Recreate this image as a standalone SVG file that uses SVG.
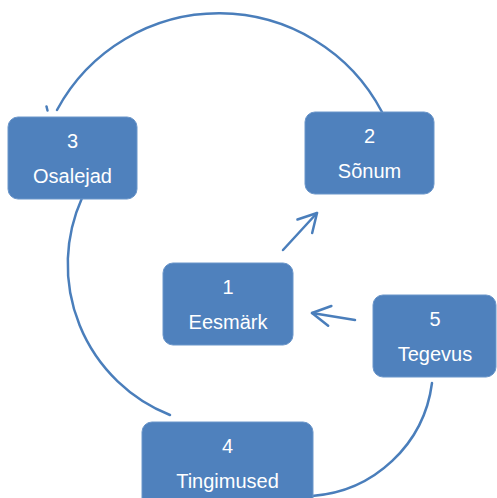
<svg xmlns="http://www.w3.org/2000/svg" width="497" height="498" viewBox="0 0 497 498">
<style>
.c{fill:none;stroke:#4a7ebb;stroke-width:2.5;stroke-linecap:round}
.a{marker-end:url(#ah)}
.b{fill:#4f81bd;stroke:#6b96ca;stroke-width:1}
.t{font-family:"Liberation Sans",Arial,sans-serif;font-size:20px;fill:#ffffff;text-anchor:middle}
</style>
<defs>
<marker id="ah" markerUnits="userSpaceOnUse" viewBox="-22 -14 26 28" refX="0" refY="0" markerWidth="26" markerHeight="28" orient="auto" overflow="visible">
<path d="M-18,-10 L0,0 L-18,10" fill="none" stroke="#4a7ebb" stroke-width="2.5" stroke-linecap="round" stroke-linejoin="round"/>
</marker>
</defs>
<rect width="497" height="498" fill="#ffffff"/>
<g id="connectors">
<path class="c" d="M57,110 A184,184 0 0 1 382,112"/>
<path class="c" d="M46.5,106.5 L47.5,110.5"/>
<path class="c" d="M82,198 A162,162 0 0 0 170,415"/>
<path class="c" d="M432,383 A130,130 0 0 1 312,496"/>
<path class="c a" d="M283,250 L317,213"/>
<path class="c a" d="M355,320 L312,313"/>
</g>
<g id="node3">
<rect class="b" x="8" y="117" width="129" height="82" rx="10"/>
<text class="t" x="72.5" y="148">3</text>
<text class="t" x="72.5" y="183">Osalejad</text>
</g>
<g id="node2">
<rect class="b" x="305" y="112" width="129" height="82" rx="10"/>
<text class="t" x="369.5" y="143">2</text>
<text class="t" x="369.5" y="178">Sõnum</text>
</g>
<g id="node1">
<rect class="b" x="163" y="263" width="130" height="82" rx="10"/>
<text class="t" x="228" y="294">1</text>
<text class="t" x="228" y="329">Eesmärk</text>
</g>
<g id="node5">
<rect class="b" x="373" y="295" width="123" height="82" rx="10"/>
<text class="t" x="435" y="326">5</text>
<text class="t" x="435" y="361">Tegevus</text>
</g>
<g id="node4">
<rect class="b" x="142" y="422" width="171" height="92" rx="10"/>
<text class="t" x="227.5" y="453">4</text>
<text class="t" x="227.5" y="488">Tingimused</text>
</g>
</svg>
